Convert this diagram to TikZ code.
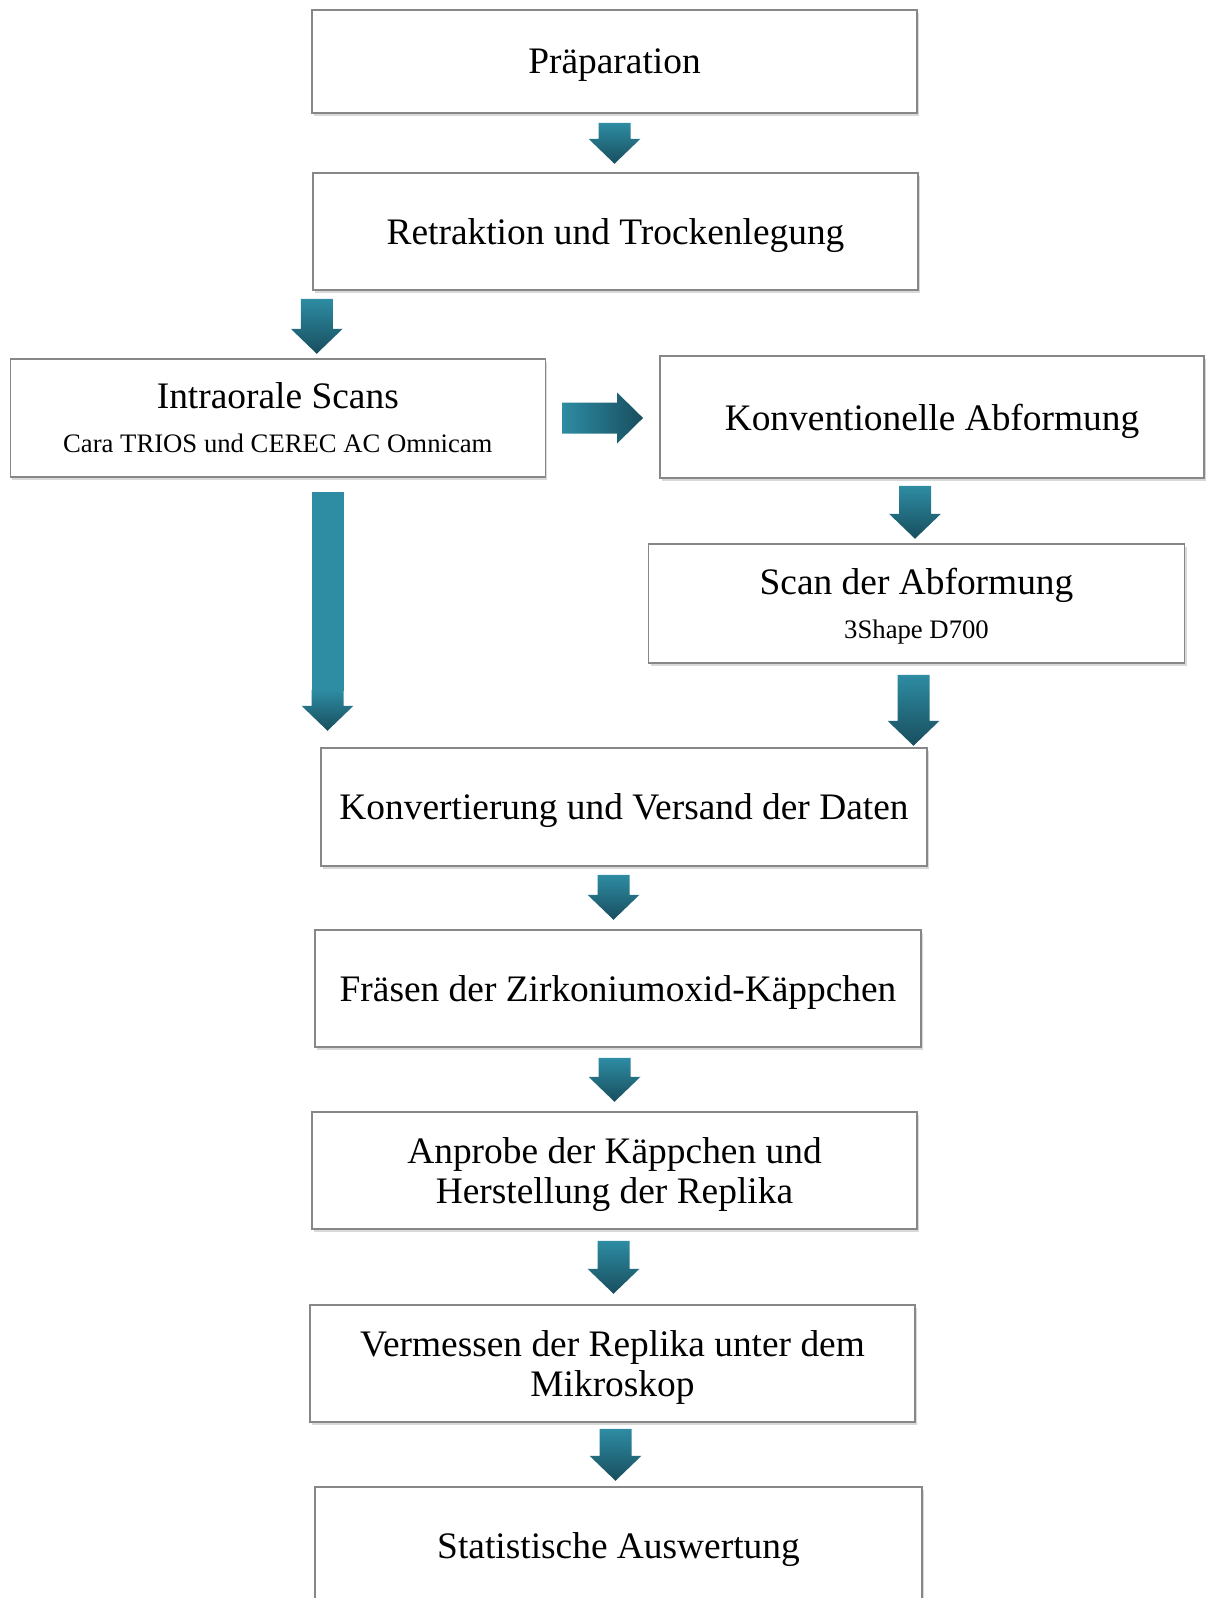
\documentclass[tikz,border=0pt]{standalone}
\usepackage{fontspec}
\setmainfont{Liberation Serif}
\usetikzlibrary{positioning, calc, shadows}
\definecolor{arrowtop}{RGB}{46,140,163}
\definecolor{arrowbot}{RGB}{24,78,94}
\definecolor{boxline}{RGB}{135,135,135}
\newcommand\detail[1]{{\fontsize{26.7}{30}\selectfont #1}}
\tikzset{
    stage/.style={draw=boxline, line width=1.5pt, fill=white,
        minimum width=605pt, minimum height=117pt, inner sep=0pt, text depth=0pt,
        align=center, font=\fontsize{37.4}{40}\selectfont,
        drop shadow={shadow xshift=2pt, shadow yshift=-3pt, opacity=0.3}},
    arrowfill/.style={top color=arrowtop, bottom color=arrowbot},
    pics/downarr/.style={code={
        \shade[arrowfill] (-16,0) -- (16,0) -- (16,#1-25) -- (26,#1-25)
            -- (0,#1) -- (-26,#1-25) -- (-16,#1-25) -- cycle;
    }},
    pics/longarr/.style={code={
        \fill[arrowtop] (-16,0) rectangle (16,#1-40);
        \shade[arrowfill] (-16,#1-41) -- (16,#1-41) -- (16,#1-25) -- (26,#1-25)
            -- (0,#1) -- (-26,#1-25) -- (-16,#1-25) -- cycle;
    }},
    pics/rightarr/.style={code={
        \shade[left color=arrowtop, right color=arrowbot] (0,-15.5) -- (#1-26,-15.5)
            -- (#1-26,-25.5) -- (#1,0) -- (#1-26,25.5) -- (#1-26,15.5) -- (0,15.5) -- cycle;
    }},
}

\begin{document}
\begin{tikzpicture}[x=1pt, y=-1pt]
    \useasboundingbox (0,0) rectangle (1207,1598);

    \node[stage, minimum height=103pt] (prep) at (614.5,61.5) {Präparation};
    \node[stage] (retr) at (615.5,231.5) {Retraktion und Trockenlegung};
    \node[stage, minimum width=535pt, minimum height=118pt] (intra) at (277.8,418)
        {Intraorale Scans\\[4pt]\detail{Cara TRIOS und CEREC AC Omnicam}};
    \node[stage, minimum width=544pt, minimum height=122pt] (konv) at (932,417)
        {Konventionelle Abformung};
    \node[stage, minimum width=536pt, minimum height=119pt] (scan) at (916.5,603.5)
        {Scan der Abformung\\[4pt]\detail{3Shape D700}};
    \node[stage, minimum width=606pt, minimum height=118pt] (daten) at (624,807)
        {Konvertierung und Versand der Daten};
    \node[stage, minimum width=606pt] (fraes) at (618,988.5)
        {Fräsen der Zirkoniumoxid-Käppchen};
    \node[stage] (anpr) at (614.5,1170.5) {Anprobe der Käppchen und\\Herstellung der Replika};
    \node[stage] (verm) at (612.5,1363.5) {Vermessen der Replika unter dem\\Mikroskop};
    \node[stage, minimum width=607pt, minimum height=118pt] (stat) at (618.5,1546)
        {Statistische Auswertung};

    % block arrows
    \pic at ([yshift=-9pt]prep.south) {downarr=41};
    \pic at ([xshift=4.5pt, yshift=-8pt]retr.south west) {downarr=55};
    \pic at ([xshift=16pt]intra.east) {rightarr=81};
    \pic at ([xshift=49.7pt, yshift=-14pt]intra.south) {longarr=239};
    \pic at ([xshift=-17pt, yshift=-7pt]konv.south) {downarr=53};
    \pic at ([xshift=-3pt, yshift=-11pt]scan.south) {downarr=71};
    \pic at ([xshift=-10.5pt, yshift=-8pt]daten.south) {downarr=45};
    \pic at ([xshift=-3.5pt, yshift=-10pt]fraes.south) {downarr=44};
    \pic at ([xshift=-1pt, yshift=-11pt]anpr.south) {downarr=53};
    \pic at ([xshift=3pt, yshift=-6pt]verm.south) {downarr=52};
\end{tikzpicture}
\end{document}
